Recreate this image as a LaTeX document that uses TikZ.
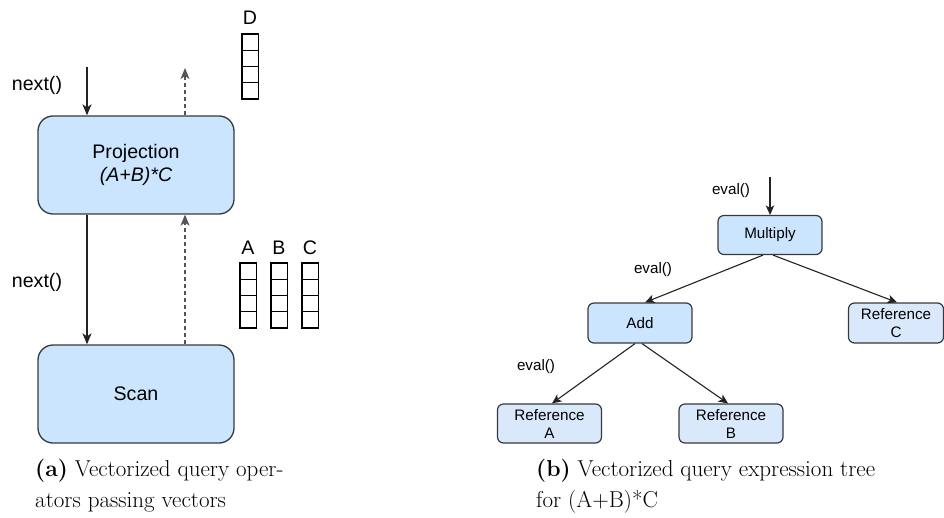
\documentclass[tikz,border=0pt]{standalone}
\usepackage{fontspec}
\newfontfamily\hv{Liberation Sans}
\usetikzlibrary{arrows.meta}

\definecolor{boxfill}{HTML}{CCE5FF}
\definecolor{reffill}{HTML}{DAE8FC}
\definecolor{boxline}{HTML}{36393D}
\definecolor{flowline}{HTML}{222222}
\definecolor{dataline}{HTML}{555555}

\tikzset{
  opbox/.style={draw=boxline, fill=boxfill, line width=1.3pt, rounded corners=15pt,
    minimum width=196pt, minimum height=98pt, inner sep=0pt, align=center,
    font=\hv\fontsize{19.6pt}{23pt}\selectfont},
  exprbox/.style={draw=boxline, fill=boxfill, line width=1.2pt, rounded corners=6pt,
    minimum width=104pt, minimum height=39pt, inner sep=0pt, align=center,
    font=\hv\fontsize{15.2pt}{18pt}\selectfont},
  refbox/.style={exprbox, fill=reffill},
  biglbl/.style={inner sep=0pt, font=\hv\fontsize{19.6pt}{23pt}\selectfont},
  smalllbl/.style={inner sep=0pt, font=\hv\fontsize{15.2pt}{18pt}\selectfont},
  cell/.style={draw=black, line width=1.2pt, fill=white},
  callarrow/.style={draw=flowline, line width=1.3pt,
    -{Stealth[length=11pt, width=9pt, inset=3pt]}},
  smallcall/.style={draw=flowline, line width=1.1pt,
    -{Stealth[length=9.5pt, width=8.5pt, inset=2.5pt]}},
  vecarrow/.style={draw=dataline, line width=1.4pt, dash pattern=on 4pt off 3pt,
    -{Stealth[length=11pt, width=9pt, inset=3pt]}},
  captxt/.style={inner sep=0pt, anchor=base west, font=\fontsize{23pt}{31pt}\selectfont},
}

\begin{document}
\begin{tikzpicture}[x=1pt, y=-1pt]
\useasboundingbox (0,0) rectangle (944,517);

% ---------- operators passing vectors ----------
\node[opbox] (proj) at (136,165) {Projection\\\itshape (A+B)*C};
\node[opbox] (scan) at (136,394) {Scan};

\coordinate (callin) at (87,67);
\coordinate (vecout) at (185,68);
\node[biglbl] (next1) at (37,85) {next()};
\node[biglbl] (next2) at (37,282) {next()};

\draw[callarrow] (callin) -- (callin |- proj.north);
\draw[vecarrow] (vecout |- proj.north) -- (vecout);
\draw[callarrow] (callin |- proj.south) -- (callin |- scan.north);
\draw[vecarrow] (vecout |- scan.north) -- (vecout |- proj.south);

% vectors: result column D and input columns A, B, C
\foreach \x/\y in {242/34, 240/263, 271/263, 302/263}
  \foreach \i in {0,...,3}
    \draw[cell] (\x,\y+16.25*\i) rectangle ++(16.5,16.25);
\node[biglbl] (colD) at (250,18) {D};
\node[biglbl] (colA) at (248,248) {A};
\node[biglbl] (colB) at (279,248) {B};
\node[biglbl] (colC) at (310,248) {C};

% ---------- expression tree ----------
\node[exprbox] (mult) at (770,235) {Multiply};
\node[exprbox, minimum height=40pt] (add) at (640,323) {Add};
\node[refbox, minimum width=95pt, minimum height=40pt] (refC) at (896,323) {Reference\\C};
\node[refbox] (refA) at (549.5,423.5) {Reference\\A};
\node[refbox] (refB) at (731,423.5) {Reference\\B};

\coordinate (evalin) at (770,177);
\node[smalllbl] (eval1) at (731,191) {eval()};
\node[smalllbl] (eval2) at (653,270) {eval()};
\node[smalllbl] (eval3) at (536,367) {eval()};

\draw[smallcall] (evalin) -- (mult.north);
\draw[smallcall] ([xshift=-7pt]mult.south) -- ([xshift=5pt]add.north);
\draw[smallcall] ([xshift=3pt]mult.south) -- ([xshift=1pt]refC.north);
\draw[smallcall] ([xshift=-5pt]add.south) -- ([xshift=2.5pt]refA.north);
\draw[smallcall] ([xshift=2pt]add.south) -- ([xshift=-3pt]refB.north);

% ---------- captions ----------
\node[captxt] (capa1) at (35,476) {\textbf{(a)} Vectorized query oper-};
\node[captxt] (capa2) at (35,507) {ators passing vectors};
\node[captxt] (capb1) at (536,476) {\textbf{(b)} Vectorized query expression tree};
\node[captxt] (capb2) at (536,507) {for (A+B)*C};
\end{tikzpicture}
\end{document}
